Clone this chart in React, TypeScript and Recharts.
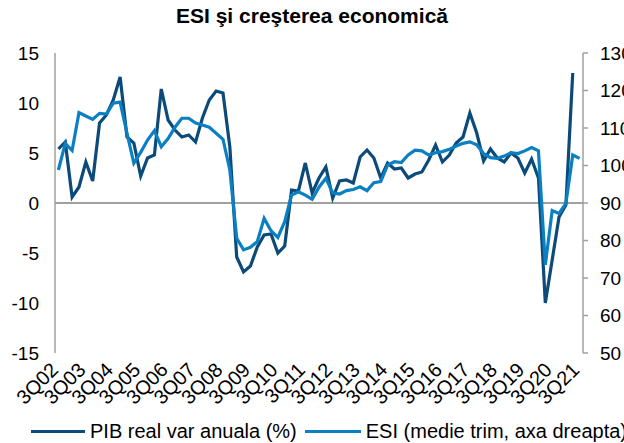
import React from 'react';
import {
  LineChart,
  Line,
  XAxis,
  YAxis,
  ReferenceLine,
} from 'recharts';

const quarters = [
  '3Q02', '4Q02', '1Q03', '2Q03', '3Q03', '4Q03', '1Q04', '2Q04',
  '3Q04', '4Q04', '1Q05', '2Q05', '3Q05', '4Q05', '1Q06', '2Q06',
  '3Q06', '4Q06', '1Q07', '2Q07', '3Q07', '4Q07', '1Q08', '2Q08',
  '3Q08', '4Q08', '1Q09', '2Q09', '3Q09', '4Q09', '1Q10', '2Q10',
  '3Q10', '4Q10', '1Q11', '2Q11', '3Q11', '4Q11', '1Q12', '2Q12',
  '3Q12', '4Q12', '1Q13', '2Q13', '3Q13', '4Q13', '1Q14', '2Q14',
  '3Q14', '4Q14', '1Q15', '2Q15', '3Q15', '4Q15', '1Q16', '2Q16',
  '3Q16', '4Q16', '1Q17', '2Q17', '3Q17', '4Q17', '1Q18', '2Q18',
  '3Q18', '4Q18', '1Q19', '2Q19', '3Q19', '4Q19', '1Q20', '2Q20',
  '3Q20', '4Q20', '1Q21', '2Q21', '3Q21',
];

// PIB real, variatie anuala (%)
const pib = [
  5.4, 6.1, 0.6, 1.6, 4.1, 2.2, 8.0, 8.8,
  10.3, 12.6, 6.6, 6.0, 2.7, 4.5, 4.8, 11.4,
  8.3, 7.3, 6.6, 6.8, 6.1, 8.5, 10.3, 11.2,
  11.0, 5.6, -5.4, -6.9, -6.3, -4.4, -3.2, -3.1,
  -5.0, -4.3, 1.3, 1.2, 4.0, 1.0, 2.5, 3.6,
  0.5, 2.2, 2.3, 2.0, 4.6, 5.3, 4.5, 2.5,
  4.0, 3.4, 3.5, 2.5, 2.9, 3.1, 4.3, 5.8,
  4.1, 4.8, 6.0, 6.6, 9.0, 7.0, 4.2, 5.4,
  4.5, 4.1, 5.0, 4.5, 3.0, 4.4, 2.5, -10.0,
  -5.7, -1.4, -0.2, 13.0, null,
];

// ESI, medie trimestriala (axa dreapta)
const esi = [
  98.8, 105.9, 104.0, 114.1, 113.2, 112.3, 113.9, 113.7,
  116.6, 116.9, 108.6, 100.6, 103.5, 106.8, 109.3, 105.0,
  107.2, 110.2, 112.6, 112.6, 111.3, 110.8, 110.2, 108.6,
  107.0, 98.8, 80.6, 77.5, 78.2, 79.7, 85.9, 82.6,
  80.8, 85.0, 92.1, 93.0, 92.1, 91.0, 94.2, 96.6,
  92.7, 92.4, 93.3, 93.6, 94.3, 93.3, 95.4, 95.7,
  100.1, 101.0, 100.8, 102.8, 104.1, 103.9, 102.8, 103.4,
  103.7, 104.3, 105.2, 105.9, 106.3, 105.5, 103.2, 102.1,
  101.9, 102.5, 103.4, 103.2, 103.9, 104.8, 103.9, 73.5,
  88.0, 87.2, 89.9, 102.8, 101.9,
];

const leftTicks = [-15, -10, -5, 0, 5, 10, 15];
const rightTicks = [50, 60, 70, 80, 90, 100, 110, 120, 130];

const data = quarters.map((q, i) => ({ q, pib: pib[i], esi: esi[i] }));

const FONT = '"Liberation Sans", Arial, sans-serif';
const DARK = '#0c4a79';
const LIGHT = '#0a7fc1';
const AXIS = '#a0a0a0';

const RotatedTick = ({ x, y, payload }: any) => (
  <text
    x={x + 1}
    y={y + 10}
    transform={`rotate(-45 ${x + 1} ${y + 10})`}
    textAnchor="end"
    fontSize={20}
    fontFamily={FONT}
    fill="#000"
  >
    {payload.value}
  </text>
);

export default function App() {
  return (
    <div style={{ position: 'absolute', left: 0, top: 0, width: 624, height: 443, background: '#fff', fontFamily: FONT }}>
      <div
        style={{
          position: 'absolute',
          top: 4,
          left: 0,
          width: 624,
          textAlign: 'center',
          fontWeight: 'bold',
          fontSize: 21,
          color: '#000',
        }}
      >
        ESI şi creşterea economică
      </div>
      <LineChart
        width={624}
        height={443}
        data={data}
        margin={{ top: 53, right: 0, bottom: 20, left: 0 }}
      >
        <XAxis
          dataKey="q"
          interval={3}
          axisLine={false}
          tickLine={false}
          height={70}
          padding={{ left: 3.4, right: 3.4 }}
          tick={<RotatedTick />}
        />
        <YAxis
          yAxisId="left"
          domain={[-15, 15]}
          ticks={leftTicks}
          width={55}
          tickLine={false}
          tickMargin={10}
          axisLine={{ stroke: AXIS, strokeWidth: 1.5 }}
          tick={{ fill: '#000', fontSize: 19, fontFamily: FONT }}
        />
        <YAxis
          yAxisId="right"
          orientation="right"
          domain={[50, 130]}
          ticks={rightTicks}
          width={41}
          tickSize={5}
          tickMargin={12}
          tickLine={{ stroke: AXIS, strokeWidth: 1.5 }}
          axisLine={{ stroke: AXIS, strokeWidth: 1.5 }}
          tick={{ fill: '#000', fontSize: 19, fontFamily: FONT, textAnchor: 'start' }}
        />
        <ReferenceLine yAxisId="left" y={0} stroke={AXIS} strokeWidth={2} />
        <Line
          yAxisId="left"
          dataKey="pib"
          stroke={DARK}
          strokeWidth={3.2}
          dot={false}
          type="linear"
          isAnimationActive={false}
        />
        <Line
          yAxisId="right"
          dataKey="esi"
          stroke={LIGHT}
          strokeWidth={3.2}
          dot={false}
          type="linear"
          isAnimationActive={false}
        />
      </LineChart>
      <div
        style={{
          position: 'absolute',
          top: 420,
          left: 31,
          display: 'flex',
          alignItems: 'center',
          fontSize: 20,
          color: '#000',
          whiteSpace: 'nowrap',
        }}
      >
        <span style={{ display: 'inline-block', width: 54, height: 3, background: DARK, marginRight: 5 }} />
        <span>PIB real var anuala (%)</span>
        <span style={{ display: 'inline-block', width: 56, height: 3, background: LIGHT, marginLeft: 8, marginRight: 5 }} />
        <span>ESI (medie trim, axa dreapta)</span>
      </div>
    </div>
  );
}
